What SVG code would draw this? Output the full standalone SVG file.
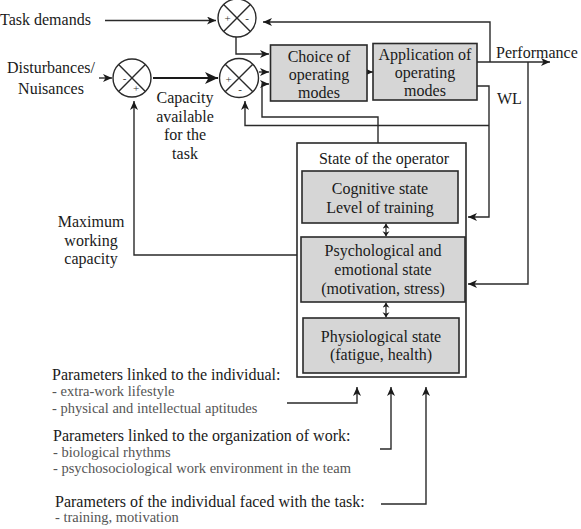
<svg xmlns="http://www.w3.org/2000/svg" width="581" height="529" viewBox="0 0 581 529">
<style>
text{font-family:"Liberation Serif","Times New Roman",serif;font-size:16px;fill:#1a1a1a}
.c{text-anchor:middle}
.s{font-size:14.5px;fill:#555}
.sg{font-size:11px;fill:#333;text-anchor:middle}
.box{fill:#d6d6d6;stroke:#2a2a2a;stroke-width:1.6}
.frame{fill:#fff;stroke:#2a2a2a;stroke-width:1.6}
.sum{fill:#fff;stroke:#2a2a2a;stroke-width:1.4}
.ln{fill:none;stroke:#2a2a2a;stroke-width:1.4}
.ar{fill:none;stroke:#2a2a2a;stroke-width:1.4;marker-end:url(#ah)}
.db{fill:none;stroke:#2a2a2a;stroke-width:1.3;marker-start:url(#ah2);marker-end:url(#ah2)}
</style>
<defs>
<marker id="ah" markerUnits="userSpaceOnUse" markerWidth="10" markerHeight="8" refX="9" refY="4" orient="auto"><path d="M0,0 L9,4 L0,8 L2.5,4 z" fill="#1a1a1a"/></marker>
<marker id="ahb" markerUnits="userSpaceOnUse" markerWidth="14" markerHeight="12" refX="13" refY="6" orient="auto"><path d="M0,0 L13,6 L0,12 L3.5,6 z" fill="#1a1a1a"/></marker>
<marker id="ah2" markerUnits="userSpaceOnUse" markerWidth="6" markerHeight="8" refX="5" refY="3.5" orient="auto-start-reverse"><path d="M0,0 L5,3.5 L0,7 L1.5,3.5 z" fill="#1a1a1a"/></marker>
</defs>

<g id="connectors">
<path class="ar" d="M105,20.5 H216"/>
<path class="ar" d="M99,78 H112"/>
<path d="M153,78 H218" fill="none" stroke="#1a1a1a" stroke-width="2.2" marker-end="url(#ahb)"/>
<path class="ar" d="M236,37 V54 H269"/>
<path class="ar" d="M259,72 H269"/>
<path class="ar" d="M378,143 V117 H262 V84 H269"/>
<path class="ar" d="M367,72 H373"/>
<path class="ar" d="M477,62 H550"/>
<path class="ar" d="M490,62 V22 H263"/>
<path class="ar" d="M477,86 H489 V217 H468"/>
<path class="ar" d="M489,125.5 H245 V101"/>
<path class="ar" d="M528,62 V284 H468"/>
<path class="ar" d="M301,255 H134 V101"/>
<path class="ar" d="M287,403 H357 V387"/>
<path class="ar" d="M380,449 H391 V387"/>
<path class="ar" d="M381,504 H426 V387"/>
</g>

<g id="sum-task">
<circle class="sum" cx="237" cy="18" r="19"/>
<path class="ln" d="M223.6,4.6 L250.4,31.4 M250.4,4.6 L223.6,31.4"/>
<text class="sg" x="227.5" y="22">+</text><text class="sg" x="247" y="22">-</text>
</g>
<g id="sum-dist">
<circle class="sum" cx="132" cy="78" r="19"/>
<path class="ln" d="M118.6,64.6 L145.4,91.4 M145.4,64.6 L118.6,91.4"/>
<text class="sg" x="124.5" y="82">-</text><text class="sg" x="136" y="92">+</text>
</g>
<g id="sum-cap">
<circle class="sum" cx="239" cy="78" r="19.5"/>
<path class="ln" d="M225.2,64.2 L252.8,91.8 M252.8,64.2 L225.2,91.8"/>
<text class="sg" x="228.5" y="83">+</text><text class="sg" x="240" y="93">-</text>
</g>

<g id="task-demands"><text x="0" y="25">Task demands</text></g>
<g id="disturbances"><text class="c" x="51" y="73">Disturbances/</text><text class="c" x="51" y="94">Nuisances</text></g>
<g id="capacity-label"><text class="c" x="185" y="103">Capacity</text><text class="c" x="185" y="121.5">available</text><text class="c" x="185" y="140">for the</text><text class="c" x="185" y="158.5">task</text></g>
<g id="max-capacity"><text class="c" x="91" y="227">Maximum</text><text class="c" x="91" y="245.5">working</text><text class="c" x="91" y="264">capacity</text></g>

<g id="choice">
<rect class="box" x="270.5" y="45" width="96.5" height="56"/>
<text class="c" x="319" y="62">Choice of</text><text class="c" x="319" y="80">operating</text><text class="c" x="319" y="98">modes</text>
</g>
<g id="application">
<rect class="box" x="373" y="43.5" width="104" height="56.5"/>
<text class="c" x="425" y="60">Application of</text><text class="c" x="425" y="78">operating</text><text class="c" x="425" y="96">modes</text>
</g>

<g id="performance"><text x="496" y="58">Performance</text></g>
<g id="wl"><text x="497" y="104">WL</text></g>

<g id="state">
<rect class="frame" x="297" y="143" width="169" height="234"/>
<text class="c" x="384" y="164">State of the operator</text>
</g>
<g id="cognitive">
<rect class="box" x="302" y="171" width="156" height="52"/>
<text class="c" x="380" y="194">Cognitive state</text><text class="c" x="380" y="213">Level of training</text>
</g>
<g id="psychological">
<rect class="box" x="301" y="237" width="164" height="65"/>
<text class="c" x="383" y="256">Psychological and</text><text class="c" x="383" y="275">emotional state</text><text class="c" x="383" y="294">(motivation, stress)</text>
</g>
<g id="physiological">
<rect class="box" x="303" y="318" width="156" height="55"/>
<text class="c" x="381" y="342">Physiological state</text><text class="c" x="381" y="360">(fatigue, health)</text>
</g>
<g id="state-links">
<path class="db" d="M386,223.8 V236.2"/>
<path class="db" d="M386,302.8 V317.2"/>
</g>

<g id="params-individual">
<text x="52" y="379.5">Parameters linked to the individual:</text>
<text class="s" x="52" y="396">- extra-work lifestyle</text>
<text class="s" x="52" y="413">- physical and intellectual aptitudes</text>
</g>
<g id="params-organization">
<text x="53" y="441">Parameters linked to the organization of work:</text>
<text class="s" x="53" y="457">- biological rhythms</text>
<text class="s" x="53" y="473">- psychosociological work environment in the team</text>
</g>
<g id="params-task">
<text x="55" y="507">Parameters of the individual faced with the task:</text>
<text class="s" x="55" y="522">- training, motivation</text>
</g>
</svg>
